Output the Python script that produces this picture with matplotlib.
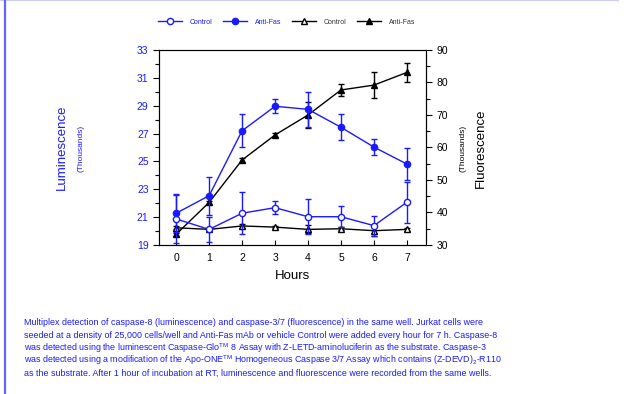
import matplotlib.pyplot as plt
from matplotlib.lines import Line2D

plt.rcParams['font.family'] = ['Liberation Sans', 'DejaVu Sans']
plt.rcParams['mathtext.fontset'] = 'custom'
plt.rcParams['mathtext.rm'] = 'Liberation Sans'
plt.rcParams['mathtext.it'] = 'Liberation Sans'

hours = [0, 1, 2, 3, 4, 5, 6, 7]

# luminescence (thousands), left axis
lum_control = [20.87, 20.12, 21.28, 21.68, 21.03, 21.03, 20.39, 22.07]
lum_control_err = [1.7, 0.9, 1.5, 0.45, 1.25, 0.77, 0.72, 1.47]
lum_antifas = [21.28, 22.54, 27.2, 28.96, 28.74, 27.45, 26.03, 24.81]
lum_antifas_err = [1.36, 1.36, 1.18, 0.5, 1.26, 0.93, 0.55, 1.17]

# fluorescence (thousands), right axis
fl_control = [35.3, 34.8, 35.85, 35.5, 34.8, 35.0, 34.4, 34.8]
fl_control_err = [0.5, 0.5, 0.5, 0.4, 1.2, 0.5, 1.6, 0.4]
fl_antifas = [33.3, 43.1, 56.15, 63.85, 70.0, 77.7, 79.2, 83.1]
fl_antifas_err = [0.5, 0.5, 0.5, 0.5, 4.1, 1.8, 4.0, 2.8]

blue = '#1a1aff'

fig = plt.figure(figsize=(6.29, 3.94), dpi=100)
ax1 = fig.add_axes([0.2528, 0.3782, 0.4245, 0.4949])
ax2 = ax1.twinx()
ax1.set_zorder(ax2.get_zorder() + 1)
ax1.patch.set_visible(False)

ekw = dict(elinewidth=1, capsize=2.3, capthick=1, lw=1, markersize=4.5)
ax2.errorbar(hours, fl_control, yerr=fl_control_err, color='black', marker='^',
             mfc='white', mec='black', **ekw)
ax2.errorbar(hours, fl_antifas, yerr=fl_antifas_err, color='black', marker='^',
             mfc='black', mec='black', **ekw)
ax1.errorbar(hours, lum_control, yerr=lum_control_err, color=blue, marker='o',
             mfc='white', mec=blue, **ekw)
ax1.errorbar(hours, lum_antifas, yerr=lum_antifas_err, color=blue, marker='o',
             mfc=blue, mec=blue, **ekw)

ax1.set_xlim(-0.52, 7.58)
ax1.set_ylim(19, 33)
ax2.set_ylim(30, 90)
ax1.set_xticks(hours)
ax1.set_yticks(range(19, 34, 2))
ax1.set_yticks(range(19, 34), minor=True)
ax2.set_yticks(range(30, 91, 10))
ax2.set_yticks(range(30, 91, 5), minor=True)

for a in (ax1, ax2):
    a.tick_params(direction='out', labelsize=7.5, length=4, width=0.8)
    a.tick_params(which='minor', direction='out', length=3, width=0.8)
    for s in a.spines.values():
        s.set_linewidth(0.8)
ax1.tick_params(axis='y', labelcolor=blue)
ax1.tick_params(axis='x', direction='in', length=3.5, pad=6)

ax1.set_xlabel('Hours', fontsize=9.5, labelpad=5)
fig.text(0.099, 0.626, 'Luminescence', rotation=90, color=blue, fontsize=9.5,
         ha='center', va='center')
fig.text(0.128, 0.622, '(Thousands)', rotation=90, color=blue, fontsize=6,
         ha='center', va='center')
fig.text(0.764, 0.624, 'Fluorescence', rotation=90, color='black', fontsize=9.5,
         ha='center', va='center')
fig.text(0.736, 0.622, '(Thousands)', rotation=90, color='black', fontsize=6,
         ha='center', va='center')

handles = [
    Line2D([], [], color=blue, marker='o', mfc='white', mec=blue, lw=1, markersize=4.5),
    Line2D([], [], color=blue, marker='o', mfc=blue, mec=blue, lw=1, markersize=4.5),
    Line2D([], [], color='black', marker='^', mfc='white', mec='black', lw=1, markersize=4.5),
    Line2D([], [], color='black', marker='^', mfc='black', mec='black', lw=1, markersize=4.5),
]
labels = ['Control', 'Anti-Fas', 'Control', 'Anti-Fas']
leg = fig.legend(handles, labels, loc='center', bbox_to_anchor=(0.4555, 0.944), ncol=4,
                 frameon=False, fontsize=5, handlelength=3.5, columnspacing=1.5,
                 handletextpad=1.1)
for t, c in zip(leg.get_texts(), [blue, blue, '#333333', '#333333']):
    t.set_color(c)

caption = [
    'Multiplex detection of caspase-8 (luminescence) and caspase-3/7 (fluorescence) in the same well. Jurkat cells were',
    'seeded at a density of 25,000 cells/well and Anti-Fas mAb or vehicle Control were added every hour for 7 h. Caspase-8',
    r'was detected using the luminescent Caspase-Glo$^{\mathrm{TM}}$ 8 Assay with Z-LETD-aminoluciferin as the substrate. Caspase-3',
    r'was detected using a modification of the Apo-ONE$^{\mathrm{TM}}$ Homogeneous Caspase 3/7 Assay which contains (Z-DEVD)$_{2}$-R110',
    'as the substrate. After 1 hour of incubation at RT, luminescence and fluorescence were recorded from the same wells.',
]
for i, line in enumerate(caption):
    fig.text(24 / 629, 1 - (322.3 + 12.7 * i) / 394, line, color=blue, fontsize=6.4,
             ha='left', va='center')

# page borders
fig.add_artist(Line2D([0, 0.982], [0.999, 0.999], color='#ccccf5', lw=1.5,
                      transform=fig.transFigure))
fig.add_artist(Line2D([0.0075, 0.0075], [0, 1], color='#6666ff', lw=1.6,
                      transform=fig.transFigure))

fig.savefig('out.png', dpi=100)
